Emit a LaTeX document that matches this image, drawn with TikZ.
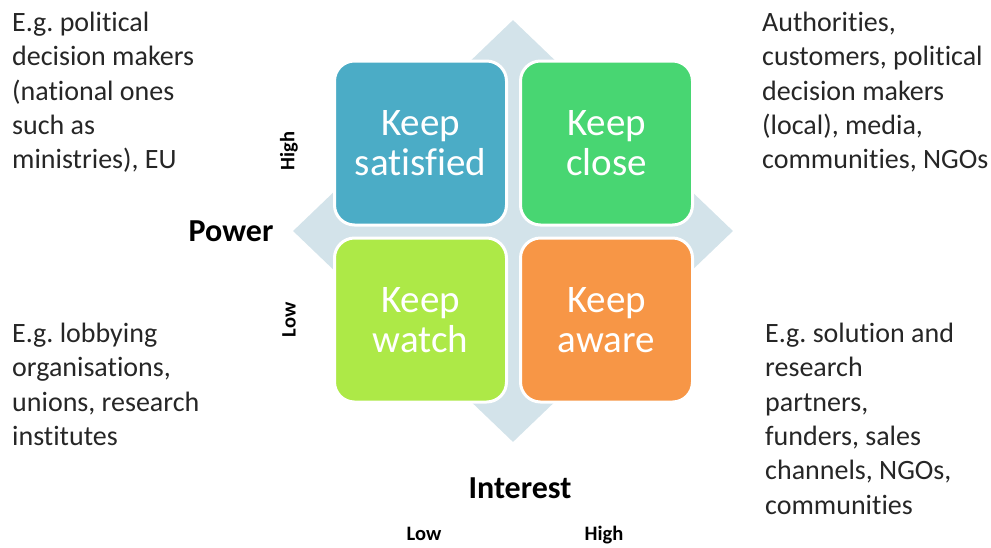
\documentclass[tikz,border=0pt]{standalone}
\usepackage{fontspec}
\setmainfont{Carlito}[Ligatures=NoCommon]
\frenchspacing
\usetikzlibrary{positioning,shapes.geometric}
\definecolor{SatBlue}{HTML}{4BACC6}
\definecolor{CloseGreen}{HTML}{48D672}
\definecolor{WatchLime}{HTML}{ADE947}
\definecolor{AwareOrange}{HTML}{F79646}
\definecolor{BackBlue}{HTML}{D3E3EA}
\definecolor{NoteGray}{HTML}{262626}

\begin{document}
\begin{tikzpicture}[
  x=1pt, y=-1pt,
  node distance=10pt and 11pt,
  quad/.style={draw=white, line width=3pt, rounded corners=20pt, minimum width=172pt, minimum height=164pt, inner sep=0pt, text=white, align=center, font=\fontsize{39}{40}\selectfont},
  note/.style={anchor=north west, inner sep=0pt, align=left, text=NoteGray, font=\fontsize{28}{34.3}\selectfont},
  axis/.style={inner sep=0pt, text=black, font=\bfseries\fontsize{32}{36}\selectfont},
  tick/.style={inner sep=0pt, text=black, font=\bfseries\fontsize{20.5}{24}\selectfont}
]
\useasboundingbox (0,0) rectangle (991,547);
\node[diamond, fill=BackBlue, minimum width=440pt, minimum height=422pt, inner sep=0pt] (back) at (513,231) {};

% four quadrants
\node[quad, fill=SatBlue] (satisfied) at (420.5,143) {Keep\\satisfied};
\node[quad, fill=CloseGreen, right=of satisfied] (close) {Keep\\close};
\node[quad, fill=WatchLime, below=of satisfied] (watch) {Keep\\watch};
\node[quad, fill=AwareOrange, right=of watch] (aware) {Keep\\aware};

% axes
\node[axis] (power) at (231,231) {Power};
\node[axis] (interest) at (520,488) {Interest};
\node[tick, rotate=90] (powerhigh) at (289,151) {High};
\node[tick, rotate=90] (powerlow) at (289,320) {Low};
\node[tick, anchor=base] (interestlow) at (424,540) {Low};
\node[tick, anchor=base] (interesthigh) at (604,540) {High};

% stakeholder examples
\node[note] (satisfiednote) at (12,12) {E.g. political\\decision makers\\(national ones\\such as\\ministries), EU};
\node[note] (closenote) at (762,12) {Authorities,\\customers, political\\decision makers\\(local), media,\\communities, NGOs};
\node[note] (watchnote) at (12,323) {E.g. lobbying\\organisations,\\unions, research\\institutes};
\node[note] (awarenote) at (765,323) {E.g. solution and\\research\\partners,\\funders, sales\\channels, NGOs,\\communities};
\end{tikzpicture}
\end{document}
